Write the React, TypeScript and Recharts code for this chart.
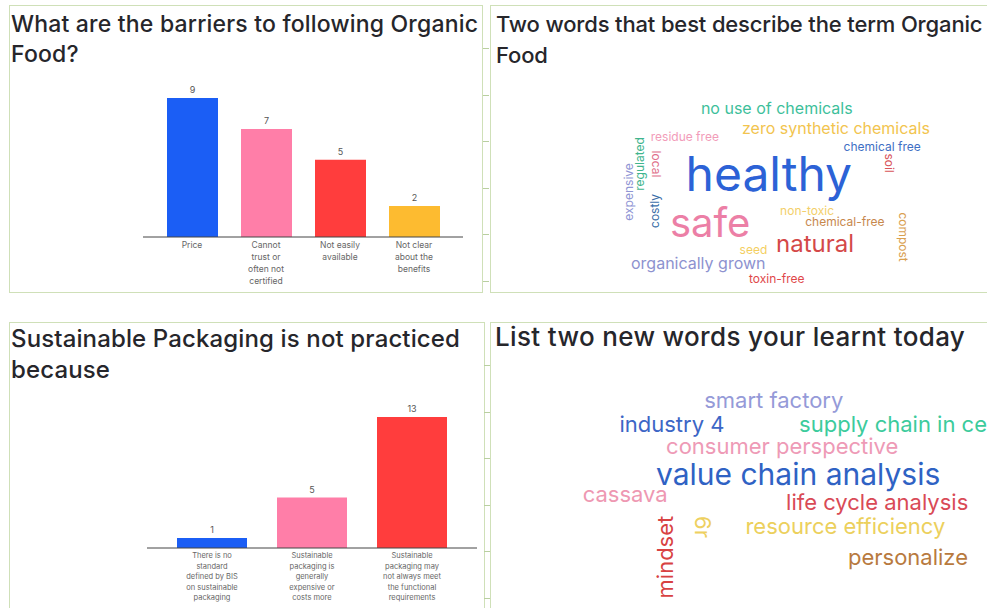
import React from 'react';
import { BarChart, Bar, Cell, XAxis, YAxis, LabelList, ScatterChart, Scatter } from 'recharts';

// Slide 1 - barriers to organic food
const barrierCategories = ['Price', 'Cannot\ntrust or\noften not\ncertified', 'Not easily\navailable', 'Not clear\nabout the\nbenefits'];
const barrierVotes = [9, 7, 5, 2];

// Slide 3 - sustainable packaging
const packagingCategories = [
  'There is no\nstandard\ndefined by BIS\non sustainable\npackaging',
  'Sustainable\npackaging is\ngenerally\nexpensive or\ncosts more',
  'Sustainable\npackaging may\nnot always meet\nthe functional\nrequirements',
];
const packagingVotes = [1, 5, 13];

// Slide 2 - word cloud (weights = number of answers)
const organicWords = ['no use of chemicals', 'zero synthetic chemicals', 'residue free', 'chemical free', 'healthy', 'soil', 'regulated', 'expensive', 'local', 'costly', 'non-toxic', 'chemical-free', 'safe', 'compost', 'seed', 'natural', 'organically grown', 'toxin-free'];
const organicWeights = [2, 2, 1, 1, 10, 1, 1, 1, 1, 1, 1, 1, 8, 1, 1, 4, 2, 1];

// Slide 4 - word cloud
const learntWords = ['smart factory', 'industry 4', 'supply chain in ce', 'consumer perspective', 'value chain analysis', 'cassava', 'life cycle analysis', 'resource efficiency', 'mindset', '6r', 'personalize'];
const learntWeights = [1, 1, 1, 1, 2, 1, 1, 1, 1, 1, 1];

// cloud layout (percent of the cloud area) and rotation
const organicLayout = [
  [57.7, 35.8, 0], [69.6, 42.7, 0], [39.2, 45.8, 0], [78.9, 49.3, 0], [56.1, 58.4, 0], [80.3, 54.9, 90],
  [30.0, 55.2, -90], [27.8, 64.9, -90], [33.6, 55.2, 90], [33.2, 71.5, -90], [63.8, 71.2, 0], [71.4, 75.2, 0],
  [44.3, 75.6, 0], [83.1, 80.6, 90], [53.0, 84.8, 0], [65.4, 82.8, 0], [41.9, 89.6, 0], [57.7, 95.1, 0],
];
const organicColors = ['#3dbf9b', '#f2c44e', '#f29cb9', '#3e6fc4', '#2c62d6', '#d9545a', '#3fb58e', '#8f95d4', '#e0708a', '#3a6ea8', '#f3cf6a', '#c7884d', '#ec7fa6', '#d9a050', '#f4cf5f', '#d44848', '#8d92cf', '#e0474a'];

const learntLayout = [
  [57.1, 27.3, 0], [36.6, 35.7, 0], [81.1, 35.7, 0], [58.8, 43.4, 0], [62.0, 53.3, 0], [27.2, 60.1, 0],
  [77.9, 63.0, 0], [71.5, 71.2, 0], [35.2, 82.2, -90], [42.9, 71.7, 90], [84.1, 82.2, 0],
];
const learntColors = ['#959ad8', '#3c66c6', '#3ccb9c', '#ee9ab6', '#2f62c4', '#ee98b2', '#d94a56', '#ecd05c', '#d84242', '#eed060', '#b87a3e'];

const BAR_COLORS = ['#1b5ef5', '#ff7ea8', '#ff3d3d', '#fdbb30'];
const BORDER = '#cfe0b8';
const FONT = 'Inter, "Noto Sans", sans-serif';

const barrierData = barrierCategories.map((name, i) => ({ name, votes: barrierVotes[i] }));
const packagingData = packagingCategories.map((name, i) => ({ name, votes: packagingVotes[i] }));

const makeCloud = (words: string[], weights: number[], layout: number[][], colors: string[], minPx: number, maxPx: number) => {
  const lo = Math.min(...weights);
  const hi = Math.max(...weights);
  return words.map((text, i) => ({
    text,
    x: layout[i][0],
    y: layout[i][1],
    rotate: layout[i][2],
    color: colors[i],
    size: minPx + ((weights[i] - lo) / (hi - lo)) * (maxPx - minPx),
  }));
};

const organicCloud = makeCloud(organicWords, organicWeights, organicLayout, organicColors, 12, 48);
const learntCloud = makeCloud(learntWords, learntWeights, learntLayout, learntColors, 22, 30);

const WrappedTick = (props: any) => {
  const { x, y, payload, fontSize, lineHeight, first } = props;
  const lines = String(payload.value).split('\n');
  return (
    <text x={x} y={y} textAnchor="middle" fontSize={fontSize} fill="#666" fontFamily={FONT}>
      {lines.map((l, i) => (
        <tspan key={i} x={x} y={y + first + i * lineHeight}>{l}</tspan>
      ))}
    </text>
  );
};

const WordShape = (props: any) => {
  const { cx, cy, payload } = props;
  return (
    <text
      x={cx}
      y={cy}
      textAnchor="middle"
      dominantBaseline="central"
      fontSize={payload.size}
      fill={payload.color}
      fontFamily={FONT}
      transform={payload.rotate ? `rotate(${payload.rotate} ${cx} ${cy})` : undefined}
    >
      {payload.text}
    </text>
  );
};

const Title = ({ left, top, lines, size = 23, spacing = 0, lh = 30 }: { left: number; top: number; lines: string[]; size?: number; spacing?: number; lh?: number }) => (
  <div style={{ position: 'absolute', left, top, fontSize: size, lineHeight: `${lh}px`, fontWeight: 500, color: '#26262b', whiteSpace: 'nowrap', letterSpacing: spacing }}>
    {lines.map((l, i) => <div key={i}>{l}</div>)}
  </div>
);

const Cloud = ({ data, left, top, width, height }: any) => (
  <div style={{ position: 'absolute', left, top, overflow: 'hidden' }}>
    <ScatterChart width={width} height={height} margin={{ top: 0, right: 0, bottom: 0, left: 0 }}>
      <XAxis type="number" dataKey="x" domain={[0, 100]} hide />
      <YAxis type="number" dataKey="y" domain={[0, 100]} reversed hide />
      <Scatter data={data} shape={WordShape} isAnimationActive={false} />
    </ScatterChart>
  </div>
);

const ticks = (top: number) => Array.from({ length: 6 }, (_, i) => top + 43 + i * 46.5);

export default function App() {
  return (
    <div style={{ position: 'absolute', left: 0, top: 0, width: 987, height: 608, background: '#fff', overflow: 'hidden', fontFamily: FONT }}>
      {/* panel frames */}
      <div style={{ position: 'absolute', left: 9, top: 5, width: 474, height: 288, border: `1.5px solid ${BORDER}`, boxSizing: 'border-box' }} />
      <div style={{ position: 'absolute', left: 490, top: 5, width: 510, height: 288, border: `1.5px solid ${BORDER}`, boxSizing: 'border-box' }} />
      <div style={{ position: 'absolute', left: 9, top: 322, width: 476, height: 300, border: `1.5px solid ${BORDER}`, boxSizing: 'border-box' }} />
      <div style={{ position: 'absolute', left: 490, top: 322, width: 510, height: 300, border: `1.5px solid ${BORDER}`, boxSizing: 'border-box' }} />
      {ticks(5).map((t) => (
        <div key={`a${t}`} style={{ position: 'absolute', left: 483, top: t, width: 6, height: 1, background: '#b9cfa0' }} />
      ))}
      {ticks(322).map((t) => (
        <div key={`b${t}`} style={{ position: 'absolute', left: 484, top: t, width: 6, height: 1, background: '#b9cfa0' }} />
      ))}

      <Title left={11} top={9} spacing={0.19} lines={['What are the barriers to following Organic', 'Food?']} />
      <Title left={496} top={9} size={22} spacing={-0.15} lh={31} lines={['Two words that best describe the term Organic', 'Food']} />
      <Title left={11} top={323} size={24} spacing={0.13} lh={31} lines={['Sustainable Packaging is not practiced', 'because']} />
      <Title left={495} top={322} size={26} spacing={0.35} lines={['List two new words your learnt today']} />

      <div style={{ position: 'absolute', left: 133, top: 80 }}>
        <BarChart width={340} height={213} data={barrierData} margin={{ top: 18, right: 10, bottom: 0, left: 10 }}>
          <XAxis
            dataKey="name"
            padding={{ left: 12, right: 12 }}
            tickSize={0}
            tickMargin={0}
            axisLine={{ stroke: '#444' }}
            interval={0}
            height={56}
            tick={(p: any) => <WrappedTick {...p} fontSize={8.5} lineHeight={12} first={11} />}
          />
          <YAxis hide domain={[0, 'dataMax']} />
          <Bar dataKey="votes" barSize={51} isAnimationActive={false}>
            {barrierData.map((d, i) => <Cell key={d.name} fill={BAR_COLORS[i % BAR_COLORS.length]} />)}
            <LabelList dataKey="votes" position="top" offset={5} fontSize={9} fill="#555" fontFamily={FONT} />
          </Bar>
        </BarChart>
      </div>

      <div style={{ position: 'absolute', left: 137, top: 399 }}>
        <BarChart width={350} height={209} data={packagingData} margin={{ top: 18, right: 10, bottom: 0, left: 10 }}>
          <XAxis
            dataKey="name"
            padding={{ left: 15, right: 15 }}
            tickSize={0}
            tickMargin={0}
            axisLine={{ stroke: '#444' }}
            interval={0}
            height={60}
            tick={(p: any) => <WrappedTick {...p} fontSize={7.5} lineHeight={10.5} first={10} />}
          />
          <YAxis hide domain={[0, 'dataMax']} />
          <Bar dataKey="votes" barSize={70} isAnimationActive={false}>
            {packagingData.map((d, i) => <Cell key={d.name} fill={BAR_COLORS[i % BAR_COLORS.length]} />)}
            <LabelList dataKey="votes" position="top" offset={5} fontSize={9} fill="#555" fontFamily={FONT} />
          </Bar>
        </BarChart>
      </div>

      <Cloud data={organicCloud} left={490} top={5} width={497} height={288} />
      <Cloud data={learntCloud} left={490} top={322} width={497} height={286} />
    </div>
  );
}
